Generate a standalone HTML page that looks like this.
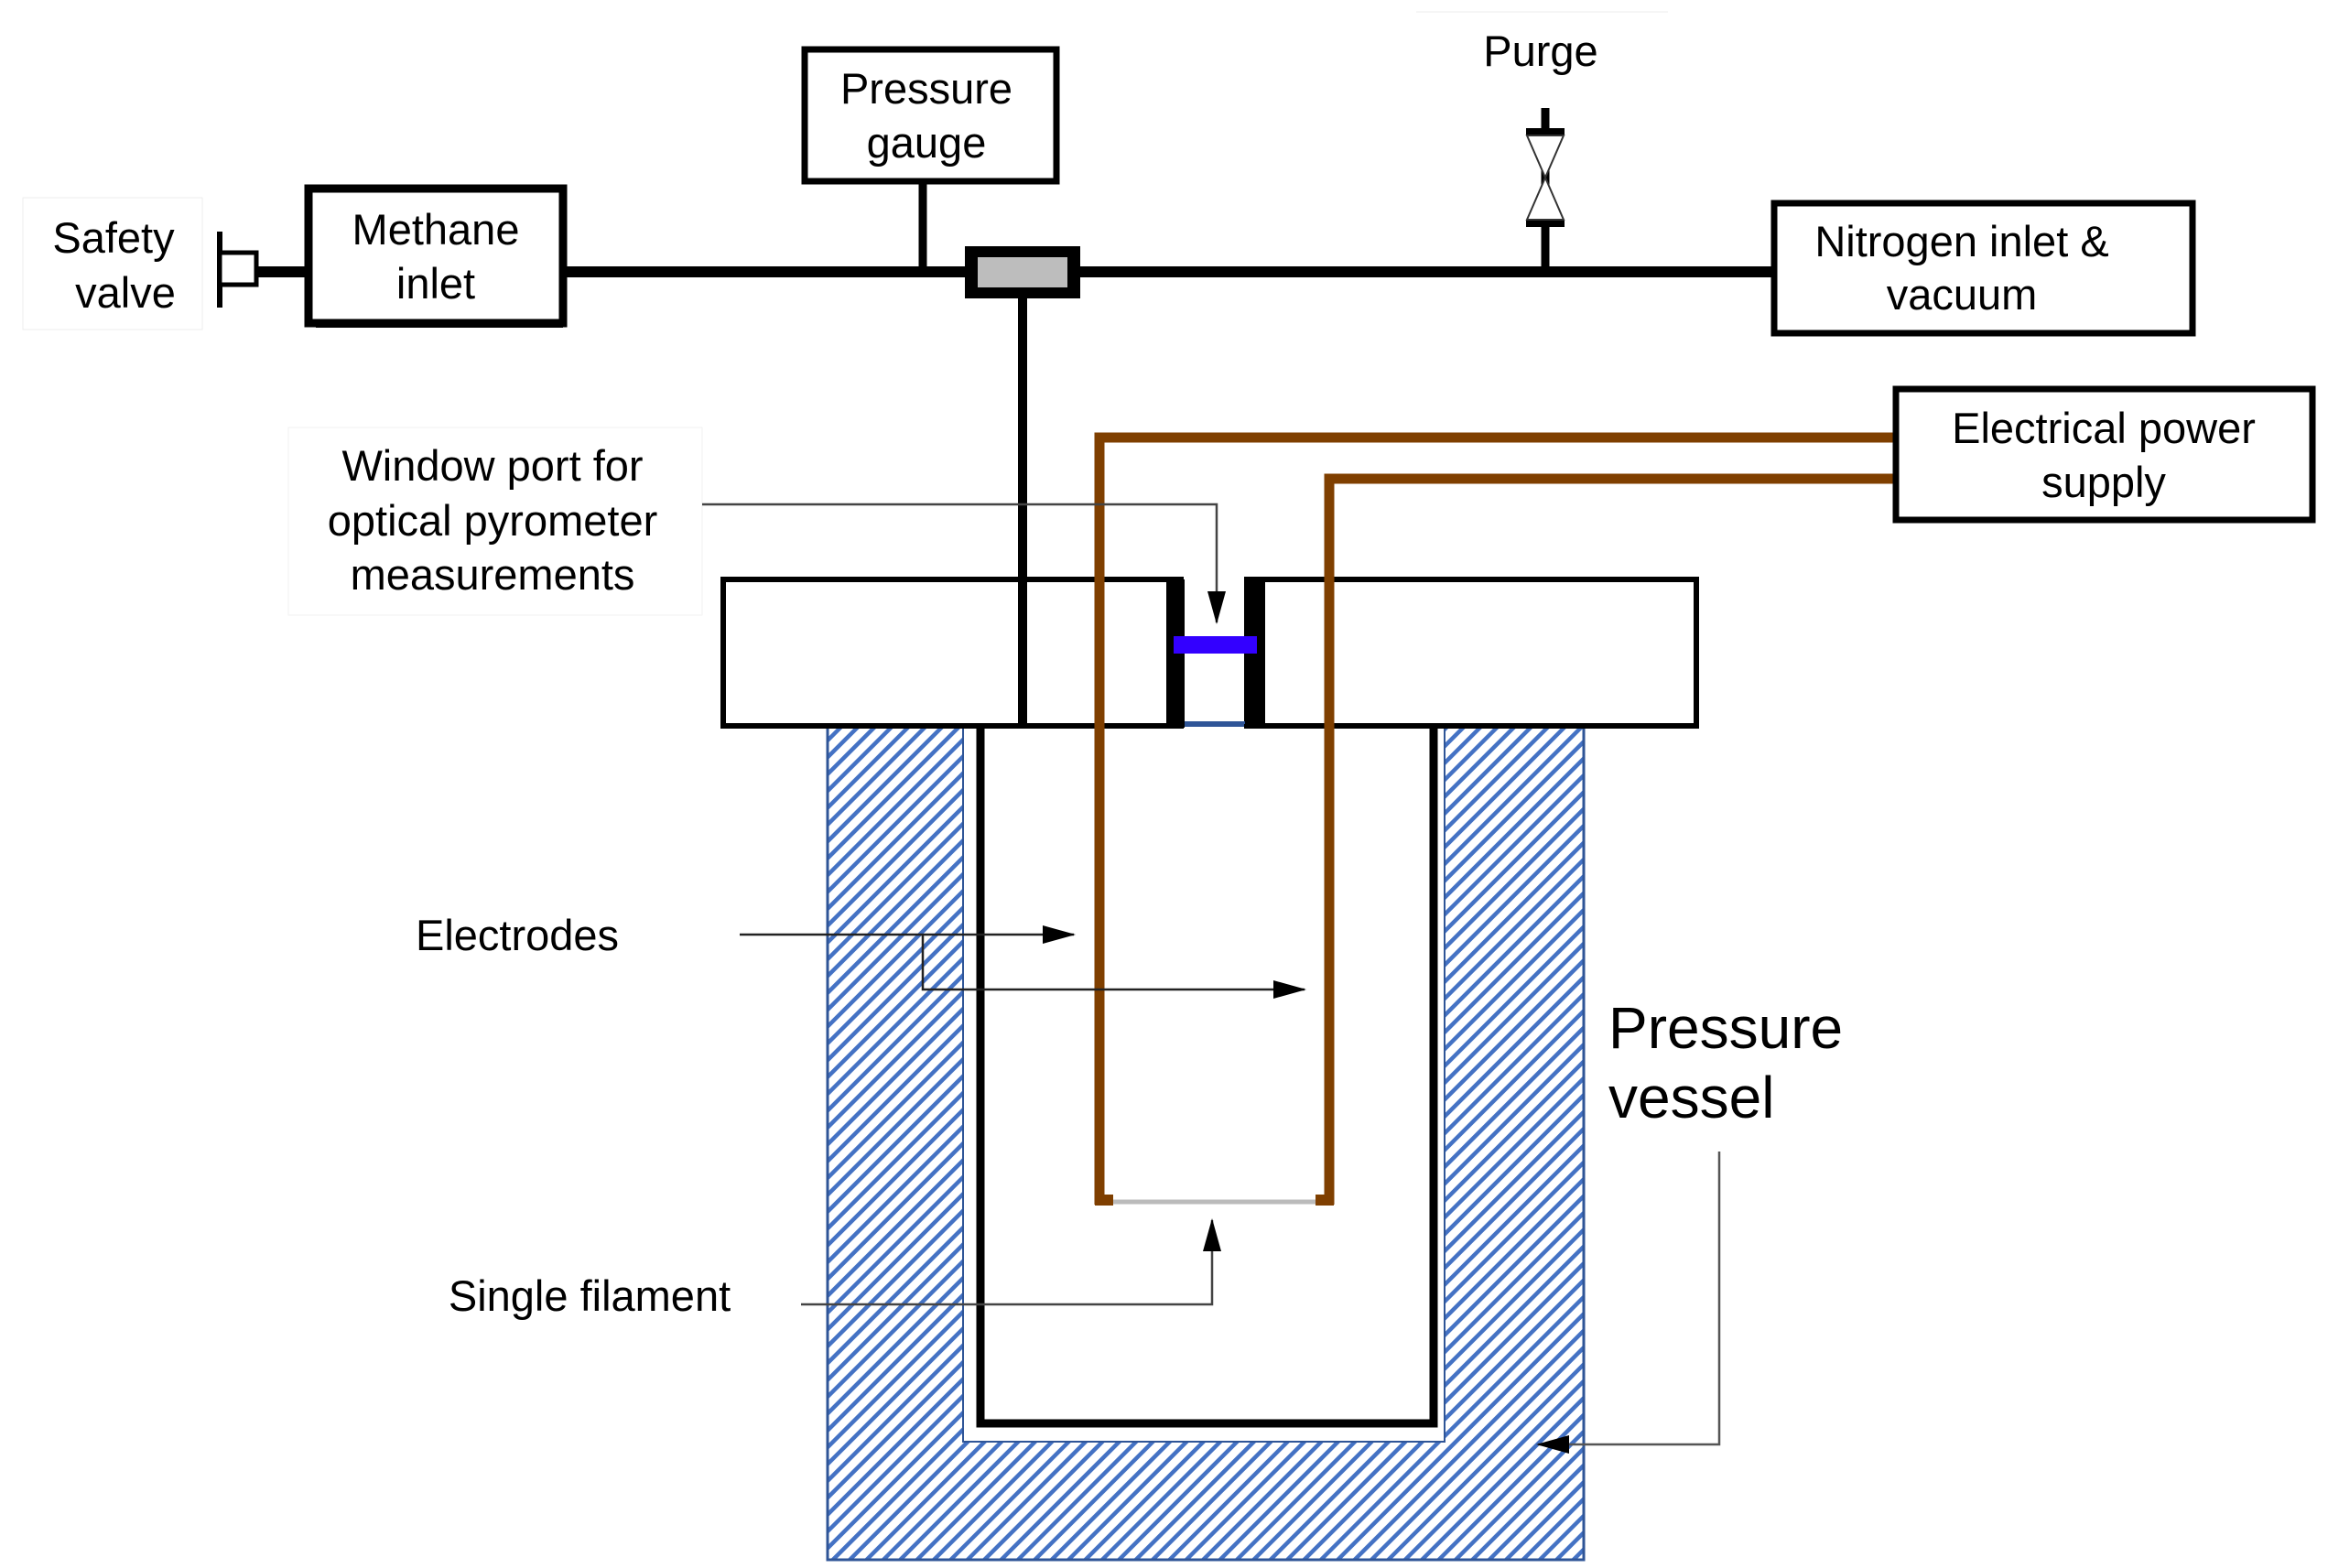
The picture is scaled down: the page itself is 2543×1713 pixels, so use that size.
<!DOCTYPE html>
<html><head><meta charset="utf-8"><style>
html,body{margin:0;padding:0;background:#fff;}
svg{display:block;}
text{font-family:"Liberation Sans",sans-serif;fill:#000;}
</style></head><body>
<svg width="2543" height="1713" viewBox="0 0 2543 1713" xmlns="http://www.w3.org/2000/svg">
<defs>
<pattern id="h" patternUnits="userSpaceOnUse" width="13" height="13" patternTransform="rotate(45)">
<rect width="13" height="13" fill="#fff"/>
<rect x="0" y="0" width="4.5" height="13" fill="#4472c4"/>
</pattern>
<marker id="A" markerWidth="36" markerHeight="20" refX="34" refY="10" orient="auto" markerUnits="userSpaceOnUse">
<path d="M0,0 L36,10 L0,20 z" fill="#000"/>
</marker>
</defs>

<rect x="904" y="791" width="826" height="913" fill="url(#h)" stroke="#2f5597" stroke-width="3"/>
<rect x="1052" y="793" width="526" height="782" fill="#fff" stroke="#2f5597" stroke-width="2"/>
<path d="M1071,793 V1555 H1566 V793" fill="none" stroke="#000" stroke-width="9"/>

<rect x="790" y="633" width="500" height="160" fill="#fff" stroke="#000" stroke-width="6"/>
<rect x="1274" y="633" width="20" height="162" fill="#000"/>
<rect x="1362" y="633" width="491" height="160" fill="#fff" stroke="#000" stroke-width="6"/>
<rect x="1360" y="633" width="22" height="162" fill="#000"/>
<rect x="1294" y="788" width="66" height="3" fill="#2f5597"/>
<rect x="1282" y="695" width="91" height="19" fill="#3300ff"/>

<line x1="1117" y1="320" x2="1117" y2="793" stroke="#000" stroke-width="10"/>

<path d="M2069,478 H1201 V1316" fill="none" stroke="#7f3f00" stroke-width="11"/>
<path d="M2069,523 H1452 V1316" fill="none" stroke="#7f3f00" stroke-width="11"/>
<rect x="1196" y="1305" width="20" height="12" fill="#7f3f00"/>
<rect x="1437" y="1305" width="20" height="12" fill="#7f3f00"/>
<line x1="1216" y1="1313" x2="1437" y2="1313" stroke="#bbb" stroke-width="5"/>

<line x1="281" y1="297" x2="1937" y2="297" stroke="#000" stroke-width="12"/>
<line x1="240" y1="253" x2="240" y2="336" stroke="#000" stroke-width="6"/>
<rect x="240" y="276" width="40" height="35" fill="#fff" stroke="#000" stroke-width="5"/>
<rect x="337" y="206" width="278" height="147" fill="#fff" stroke="#000" stroke-width="9"/>
<rect x="345" y="349" width="270" height="9" fill="#000"/>
<text x="476" y="267" font-size="47" text-anchor="middle">Methane</text>
<text x="476" y="326" font-size="47" text-anchor="middle">inlet</text>
<rect x="25" y="216" width="196" height="144" fill="#fff" stroke="#eee" stroke-width="1"/>
<text x="124" y="276" font-size="47" text-anchor="middle">Safety</text>
<text x="137" y="336" font-size="47" text-anchor="middle">valve</text>

<line x1="1008" y1="198" x2="1008" y2="297" stroke="#000" stroke-width="9"/>
<rect x="879" y="54" width="275" height="144" fill="#fff" stroke="#000" stroke-width="7"/>
<text x="1012" y="113" font-size="47" text-anchor="middle">Pressure</text>
<text x="1012" y="172" font-size="47" text-anchor="middle">gauge</text>
<rect x="1054" y="269" width="126" height="57" fill="#000"/>
<rect x="1068" y="281" width="98" height="33" fill="#bdbdbd"/>

<line x1="1688" y1="118" x2="1688" y2="297" stroke="#000" stroke-width="9"/>
<rect x="1667" y="140" width="42" height="8" fill="#000"/>
<rect x="1667" y="240" width="42" height="8" fill="#000"/>
<path d="M1668,148 L1708,148 L1668,240 L1708,240 z" fill="#fff" stroke="#333" stroke-width="2"/>
<rect x="1547" y="13" width="275" height="88" fill="#fff"/>
<line x1="1547" y1="13" x2="1822" y2="13" stroke="#eee"/>
<text x="1683" y="72" font-size="47" text-anchor="middle">Purge</text>

<rect x="1938" y="222" width="457" height="142" fill="#fff" stroke="#000" stroke-width="7"/>
<text x="2143" y="280" font-size="47" text-anchor="middle">Nitrogen inlet &amp;</text>
<text x="2143" y="338" font-size="47" text-anchor="middle">vacuum</text>

<rect x="2071" y="425" width="455" height="143" fill="#fff" stroke="#000" stroke-width="7"/>
<text x="2298" y="484" font-size="47" text-anchor="middle">Electrical power</text>
<text x="2298" y="543" font-size="47" text-anchor="middle">supply</text>

<rect x="315" y="467" width="452" height="205" fill="#fff" stroke="#f2f2f2"/>
<text x="538" y="525" font-size="47" text-anchor="middle">Window port for</text>
<text x="538" y="585" font-size="47" text-anchor="middle">optical pyrometer</text>
<text x="538" y="644" font-size="47" text-anchor="middle">measurements</text>
<path d="M767,551 H1329 V680" fill="none" stroke="#444" stroke-width="2.5" marker-end="url(#A)"/>

<text x="565" y="1038" font-size="47" text-anchor="middle">Electrodes</text>
<path d="M808,1021 H1173" fill="none" stroke="#222" stroke-width="2.5" marker-end="url(#A)"/>
<path d="M1008,1021 V1081 H1425" fill="none" stroke="#222" stroke-width="2.5" marker-end="url(#A)"/>

<text x="644" y="1432" font-size="47" text-anchor="middle">Single filament</text>
<path d="M875,1425 H1324 V1333" fill="none" stroke="#444" stroke-width="2.5" marker-end="url(#A)"/>

<text x="1757" y="1145" font-size="64">Pressure</text>
<text x="1757" y="1221" font-size="64">vessel</text>
<path d="M1878,1258 V1578 H1680" fill="none" stroke="#555" stroke-width="2.5" marker-end="url(#A)"/>
</svg>
</body></html>
